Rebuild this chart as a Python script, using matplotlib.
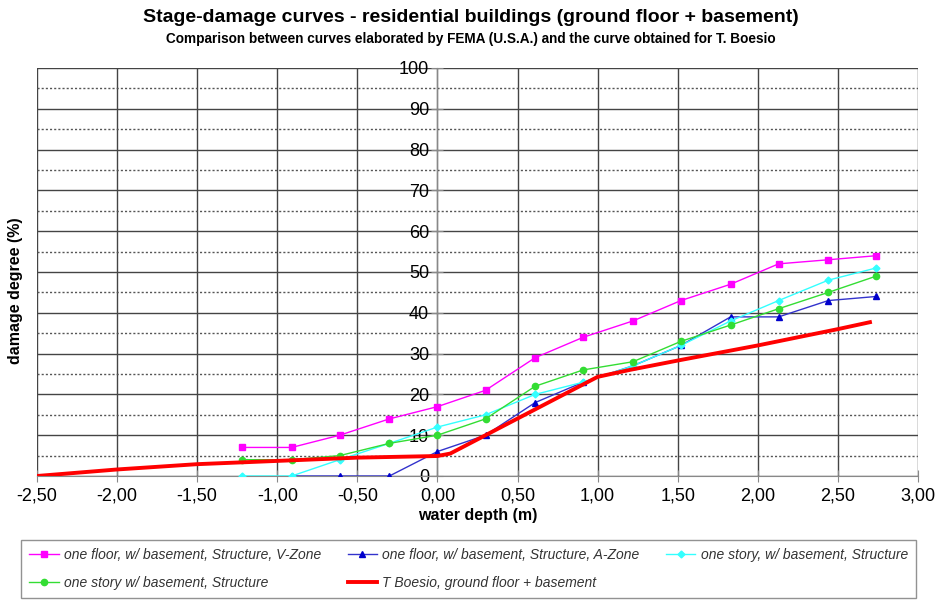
import matplotlib
matplotlib.use('Agg')
import matplotlib.pyplot as plt
from matplotlib.ticker import MultipleLocator, FuncFormatter

plt.rcParams['font.family'] = ['Liberation Sans', 'DejaVu Sans']

# FEMA depths (m) -- feet steps converted
depth = [-1.22, -0.91, -0.61, -0.30, 0.00, 0.30, 0.61, 0.91, 1.22, 1.52, 1.83, 2.13, 2.44, 2.74]
v_zone = [7, 7, 10, 14, 17, 21, 29, 34, 38, 43, 47, 52, 53, 54]
a_zone_depth = depth[1:]
a_zone = [0, 0, 0, 6, 10, 18, 23, 27, 32, 39, 39, 43, 44]
story_cyan = [0, 0, 4, 8, 12, 15, 20, 23, 27, 32, 38, 43, 48, 51]
story_green = [4, 4, 5, 8, 10, 14, 22, 26, 28, 33, 37, 41, 45, 49]

# T. Boesio curve
boesio_depth = [-2.5, -2.0, -1.5, -1.0, -0.5, 0.0, 0.08, 1.0, 1.2, 1.5, 2.0, 2.5, 2.7]
boesio = [0, 1.6, 2.9, 3.7, 4.5, 4.9, 5.5, 24.3, 26, 28.3, 32, 36, 37.7]

labels = ['one floor, w/ basement, Structure, V-Zone',
          'one floor, w/ basement, Structure, A-Zone',
          'one story, w/ basement, Structure',
          'one story w/ basement, Structure',
          'T Boesio, ground floor + basement']

fig = plt.figure(figsize=(9.41, 6.0), dpi=100)
ax = fig.add_axes([37 / 941, 1 - 476 / 600, 881 / 941, 408 / 600])

l1, = ax.plot(depth, v_zone, color='#ff00ff', lw=1, marker='s', ms=5, zorder=4)
l2, = ax.plot(a_zone_depth, a_zone, color='#3333cc', lw=1, marker='^', ms=5,
              mfc='#0000cc', mec='#0000cc', zorder=4)
l3, = ax.plot(depth, story_cyan, color='#33ffff', lw=1, marker='D', ms=3.5, zorder=4)
l4, = ax.plot(depth, story_green, color='#33dd33', lw=1, marker='o', ms=4.5, zorder=4)
l5, = ax.plot(boesio_depth, boesio, color='#ff0000', lw=2.8, zorder=5)

ax.set_xlim(-2.5, 3.0)
ax.set_ylim(0, 100)
ax.xaxis.set_major_locator(MultipleLocator(0.5))
ax.yaxis.set_major_locator(MultipleLocator(10))
ax.yaxis.set_minor_locator(MultipleLocator(5))
ax.xaxis.set_major_formatter(FuncFormatter(lambda v, p: f'{v:.2f}'.replace('.', ',')))

# solid grid every 10 %, dotted every 5 %
ax.grid(which='major', axis='both', color='#444444', lw=1.0)
ax.grid(which='minor', axis='y', color='#555555', lw=1.0, linestyle=(0, (1.5, 1.5)))
ax.set_axisbelow(True)
for gl in ax.get_xgridlines():
    if gl.get_xdata()[0] in (-2.5, 3.0):
        gl.set_color('#bbbbbb')
for gl in ax.get_ygridlines():
    if gl.get_ydata()[0] == 100:
        gl.set_color('#bbbbbb')

# y axis sits at water depth 0
ax.spines['left'].set_position(('data', 0))
ax.spines['left'].set_color('#888888')
ax.spines['bottom'].set_color('#888888')
ax.spines['top'].set_visible(False)
ax.spines['right'].set_visible(False)
ax.tick_params(axis='both', which='major', labelsize=13, colors='#888888',
               labelcolor='black', direction='inout', length=8)
ax.tick_params(axis='y', which='minor', length=0)
ax.tick_params(axis='x', pad=4)
ax.tick_params(axis='y', pad=2)

ax.set_xlabel('water depth (m)', fontsize=11.5, fontweight='bold', labelpad=3)
fig.text(0.017, 1 - 291 / 600, 'damage degree (%)', rotation=90, fontsize=11.5,
         fontweight='bold', ha='center', va='center')

fig.text(0.5, 1 - 17 / 600, 'Stage-damage curves - residential buildings (ground floor + basement)',
         ha='center', va='center', fontsize=14, fontweight='bold')
fig.text(0.5, 1 - 39 / 600, 'Comparison between curves elaborated by FEMA (U.S.A.) and the curve obtained for T. Boesio',
         ha='center', va='center', fontsize=9.8, fontweight='bold')

# legend filled column-wise, so reorder to get the reference's row order
handles = [l1, l4, l2, l5, l3]
hl = [labels[0], labels[3], labels[1], labels[4], labels[2]]
leg = fig.legend(handles, hl, ncol=3, loc='upper left', bbox_to_anchor=(21 / 941, 1 - 540 / 600),
                 borderaxespad=0, frameon=True, fancybox=False, edgecolor='#777777',
                 prop={'style': 'italic', 'size': 10}, handlelength=2.1, handletextpad=0.4,
                 columnspacing=1.9, borderpad=0.6, labelspacing=0.95)
for t in leg.get_texts():
    t.set_color('#333333')
leg.get_frame().set_linewidth(1.0)

fig.savefig('out.png', dpi=100)
